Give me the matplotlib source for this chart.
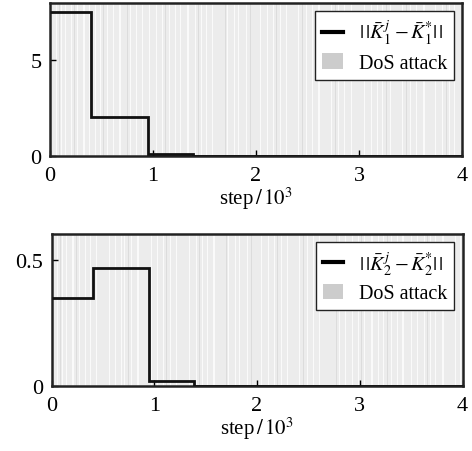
import matplotlib
matplotlib.use("Agg")
import matplotlib.pyplot as plt
from matplotlib.patches import Patch
from matplotlib.lines import Line2D

plt.rcParams['font.family'] = ['Liberation Serif', 'DejaVu Serif']
plt.rcParams['mathtext.fontset'] = 'stix'

# step-wise norms (x in 10^3 steps)
edges = [0.0, 0.40, 0.95, 1.39, 4.0]
k1_vals = [7.48, 2.05, 0.09, 0.0]
k2_vals = [0.347, 0.467, 0.018, 0.0]

# DoS attack: whole horizon attacked except short gaps (centre, width) in 10^3 steps
attack_span = (0.0, 4.0)
gap_centers = [0.02, 0.06, 0.11, 0.15, 0.21, 0.27, 0.33, 0.38, 0.44, 0.49, 0.56, 0.62,
               0.68, 0.71, 0.78, 0.84, 0.90, 0.97, 1.03, 1.09, 1.16, 1.22, 1.27, 1.34,
               1.41, 1.47, 1.52, 1.58, 1.66, 1.72, 1.79, 1.83, 1.91, 1.98, 2.04, 2.11,
               2.17, 2.24, 2.30, 2.36, 2.41, 2.49, 2.55, 2.61, 2.68, 2.73, 2.80, 2.86,
               2.93, 2.99, 3.05, 3.12, 3.18, 3.23, 3.31, 3.37, 3.42, 3.50, 3.56, 3.63,
               3.69, 3.74, 3.81, 3.88, 3.93, 3.98]
gap_widths = [0.008, 0.012, 0.006, 0.010, 0.014, 0.007, 0.011, 0.009, 0.013, 0.006,
              0.010, 0.008, 0.012, 0.007, 0.009, 0.014, 0.006, 0.011, 0.008, 0.010,
              0.013, 0.007, 0.009, 0.012, 0.006, 0.010, 0.008, 0.014, 0.007, 0.011,
              0.009, 0.006, 0.012, 0.008, 0.010, 0.013, 0.007, 0.009, 0.011, 0.006,
              0.012, 0.008, 0.010, 0.014, 0.007, 0.009, 0.011, 0.006, 0.013, 0.008,
              0.010, 0.012, 0.007, 0.009, 0.011, 0.006, 0.014, 0.008, 0.010, 0.012,
              0.007, 0.009, 0.011, 0.006, 0.013, 0.008]
dark_centers = [0.09, 0.24, 0.52, 0.75, 1.12, 1.44, 1.70, 1.95, 2.20, 2.45, 2.77,
                3.02, 3.27, 3.46, 3.66, 3.85]

fig = plt.figure(figsize=(4.72, 4.52), dpi=100)
ax1 = fig.add_axes([50/472, 1-157/452, 412/472, 153/452])
ax2 = fig.add_axes([51.5/472, 1-387/452, 411/472, 152/452])

labels = [r'$|\,|\bar{K}_1^{\,j} - \bar{K}_1^{*}|\,|$', r'$|\,|\bar{K}_2^{\,j} - \bar{K}_2^{*}|\,|$']
for ax, vals, ylim, yt, ytl, lab in [
        (ax1, k1_vals, 7.97, [0, 5], ['0', '5'], labels[0]),
        (ax2, k2_vals, 0.602, [0, 0.5], ['0', '0.5'], labels[1])]:
    ax.axvspan(*attack_span, color='#ececec', lw=0, zorder=0)
    for c, w in zip(gap_centers, gap_widths):
        ax.axvspan(c - w/2, c + w/2, color='#fafafa', lw=0, zorder=0.5)
    for c in dark_centers:
        ax.axvspan(c - 0.004, c + 0.004, color='#dcdcdc', lw=0, zorder=0.6)
    ax.stairs(vals, edges, color='#111111', lw=2.0, baseline=None, zorder=3)
    ax.set_xlim(0, 4)
    ax.set_ylim(0, ylim)
    ax.set_xticks([0, 1, 2, 3, 4])
    ax.set_yticks(yt)
    ax.set_yticklabels(ytl)
    ax.tick_params(direction='in', labelsize=16, length=4, width=1)
    ax.tick_params(axis='x', pad=7)
    ax.tick_params(axis='y', pad=6)
    for s in ax.spines.values():
        s.set_linewidth(1.8)
        s.set_color('#222222')
    ax.set_xlabel(r'step$\,/\,10^3$', fontsize=15, labelpad=0)
    handles = [Line2D([0], [0], color='black', lw=3),
               Patch(facecolor='#cccccc', edgecolor='none')]
    leg = ax.legend(handles, [lab, 'DoS attack'], loc='upper right', fontsize=14.5,
                    frameon=True, fancybox=False, edgecolor='#222222',
                    framealpha=1, borderpad=0.35, handlelength=1.0, handleheight=0.8,
                    handletextpad=0.8, labelspacing=0.35, borderaxespad=0.4)
    leg.get_frame().set_linewidth(1.0)

fig.savefig('out.png', dpi=100)
